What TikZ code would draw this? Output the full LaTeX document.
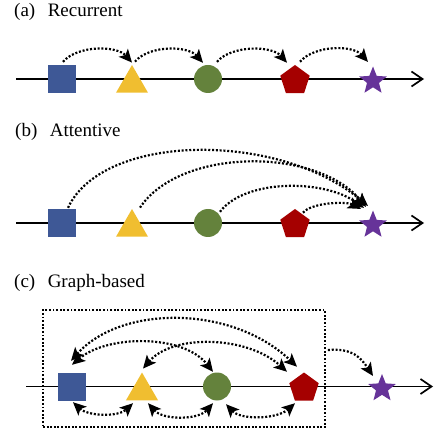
\documentclass[tikz,border=0pt]{standalone}
\usepackage{fontspec}
\setmainfont{Liberation Serif}
\usetikzlibrary{arrows.meta,shapes.geometric,calc}
\definecolor{sqblue}{RGB}{62,88,150}
\definecolor{triyellow}{RGB}{240,190,48}
\definecolor{cirgreen}{RGB}{100,130,60}
\definecolor{pentred}{RGB}{165,0,0}
\definecolor{starpurple}{RGB}{102,51,153}
\tikzset{
  sqnode/.style={rectangle, fill=sqblue, minimum size=28pt, inner sep=0pt},
  trinode/.style={regular polygon, regular polygon sides=3, fill=triyellow, minimum size=37pt, inner sep=0pt},
  cirnode/.style={circle, fill=cirgreen, minimum size=28pt, inner sep=0pt},
  pentnode/.style={regular polygon, regular polygon sides=5, fill=pentred, minimum size=31pt, inner sep=0pt},
  starnode/.style={star, star points=5, star point ratio=2.3, fill=starpurple, minimum size=29pt, inner sep=0pt},
  axisline/.style={line width=1.7pt, -{Straight Barb[length=11pt,width=15pt]}},
  conn/.style={line width=2.2pt, dash pattern=on 2pt off 1.8pt, -{Stealth[length=13pt,width=12pt,inset=3pt]}},
  biconn/.style={line width=2.2pt, dash pattern=on 2pt off 1.8pt, {Stealth[length=13pt,width=12pt,inset=3pt]}-{Stealth[length=13pt,width=12pt,inset=3pt]}},
  boxline/.style={draw, line width=1.9pt, dash pattern=on 1.9pt off 1.7pt, inner sep=0pt},
  lbl/.style={anchor=base west, inner sep=0pt, font=\fontsize{19}{22}\selectfont},
}
\begin{document}
\begin{tikzpicture}[x=1pt,y=1pt]
\useasboundingbox (0,0) rectangle (436,431);

% ---------- (a) Recurrent ----------
\node[lbl] (la) at (14,414) {(a)\hspace{12.5pt}Recurrent};
\begin{scope}[shift={(0,352)}]
  \coordinate (aL) at (16,0);
  \coordinate (aR) at (424,0);
  \draw[axisline] (aL) -- (aR);
  \node[sqnode] (a1) at (62,0) {};
  \node[trinode] (a2) at (132,-4.5) {};
  \node[cirnode] (a3) at (208,0) {};
  \node[pentnode] (a4) at (295,-1.5) {};
  \node[starnode] (a5) at (373,-2) {};
  \draw[conn] ($(a1.north)+(1,3)$) .. controls +(15,17) and +(-15,17) .. ($(a2.north)+(0,2)$);
  \draw[conn] ($(a2.north)+(3,3)$) .. controls +(15,17) and +(-15,17) .. ($(a3.north)+(-5,2)$);
  \draw[conn] ($(a3.north)+(9,3)$) .. controls +(15,17) and +(-15,17) .. ($(a4.north)+(-8,2)$);
  \draw[conn] ($(a4.north)+(5,3)$) .. controls +(15,17) and +(-15,17) .. ($(a5.north)+(-5,4)$);
\end{scope}

% ---------- (b) Attentive ----------
\node[lbl] (lb) at (15,294) {(b)\hspace{12.5pt}Attentive};
\begin{scope}[shift={(0,208)}]
  \coordinate (bL) at (16,0);
  \coordinate (bR) at (424,0);
  \draw[axisline] (bL) -- (bR);
  \node[sqnode] (b1) at (62,0) {};
  \node[trinode] (b2) at (132,-4.5) {};
  \node[cirnode] (b3) at (208,0) {};
  \node[pentnode] (b4) at (295,-1.5) {};
  \node[starnode] (b5) at (373,-2) {};
  \draw[conn] ($(b1.north)+(6,1)$) .. controls +(35,75) and +(-90,75) .. ($(b5.north)+(-5,4)$);
  \draw[conn] ($(b2.north)+(8,1)$) .. controls +(40,60) and +(-50,60) .. ($(b5.north)+(-7,3)$);
  \draw[conn] ($(b3.north)+(12,-3)$) .. controls +(25,33) and +(-40,29) .. ($(b5.north)+(-9,2)$);
  \draw[conn] ($(b4.north)+(8,-4)$) .. controls +(8,10) and +(-15,8) .. ($(b5.north)+(-12,1)$);
\end{scope}

% ---------- (c) Graph-based ----------
\node[lbl] (lc) at (14,143.5) {(c)\hspace{12.5pt}Graph-based};
\begin{scope}[shift={(0,44.5)}]
  \coordinate (cL) at (26,0);
  \coordinate (cR) at (433,0);
  \draw[axisline] (cL) -- (cR);
  \node[boxline, minimum width=282pt, minimum height=117pt] (cbox) at (184,18) {};
  \node[sqnode] (c1) at (72,0) {};
  \node[trinode] (c2) at (142,-4.5) {};
  \node[cirnode] (c3) at (217,0) {};
  \node[pentnode] (c4) at (304,-1.5) {};
  \node[starnode] (c5) at (382,-2) {};
  % upper arcs
  \draw[biconn] ($(c1.north)+(-1,11.5)$) .. controls +(50,56) and +(-65,62) .. ($(c4.north)+(-7,5.5)$);
  \draw[biconn] ($(c1.north)+(0,7.5)$) .. controls +(35,30) and +(-30,38) .. ($(c3.north)+(-4,0.5)$);
  \draw[biconn] ($(c2.north)+(1,3.5)$) .. controls +(30,35) and +(-40,36) .. ($(c4.north)+(-17,0.5)$);
  % lower arcs
  \draw[biconn] ($(c1.south)+(1,-1.5)$) .. controls +(15,-14) and +(-15,-14) .. ($(c2.south)+(-9,-2.75)$);
  \draw[biconn] ($(c2.south)+(6,-2.75)$) .. controls +(15,-17) and +(-15,-17) .. ($(c3.south)+(-4,-2.5)$);
  \draw[biconn] ($(c3.south)+(9,-3.5)$) .. controls +(15,-16) and +(-18,-16) .. ($(c4.south)+(-9,-2.5)$);
  % box to star
  \draw[conn] ($(cbox.east)+(2,18.5)$) .. controls +(25,2) and +(-12,18) .. ($(c5.north)+(-9,-2.5)$);
\end{scope}
\end{tikzpicture}
\end{document}
